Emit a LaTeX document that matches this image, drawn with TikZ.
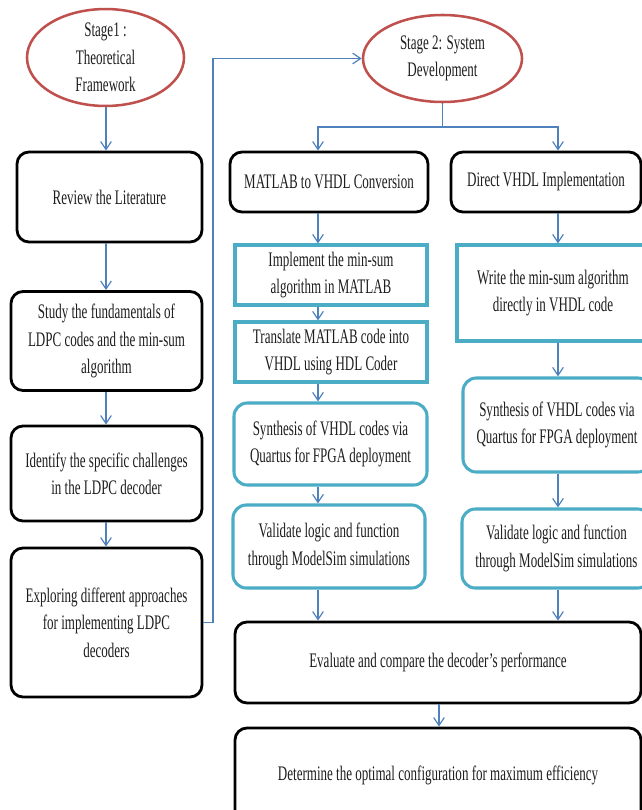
\documentclass[tikz,border=0pt]{standalone}
\usepackage{fontspec}
\setmainfont{Liberation Serif}[FakeStretch=0.63]
\usetikzlibrary{shapes.geometric,arrows.meta}

\definecolor{flowblue}{HTML}{4F81BD}
\definecolor{stagered}{HTML}{C0504D}
\definecolor{stepteal}{HTML}{4BACC6}
\definecolor{inkgrey}{HTML}{1E1E1E}

\tikzset{
  sz/.style 2 args={minimum width=#1*0.75pt, minimum height=#2*0.75pt},
  base/.style={inner sep=0pt, align=center, text=inkgrey,
    font=\fontsize{15.5}{20.5}\selectfont},
  stage/.style={base, ellipse, draw=stagered, line width=1.9pt, fill=white},
  blackbox/.style={base, rectangle, rounded corners=9pt, draw=black, line width=2.1pt},
  tealbox/.style={base, rectangle, draw=stepteal, line width=2.3pt},
  tealround/.style={tealbox, rounded corners=10pt},
  link/.style={draw=flowblue, line width=0.9pt,
    -{Straight Barb[length=6pt, width=8pt, line width=0.9pt]}},
  plainlink/.style={draw=flowblue, line width=0.9pt},
}

\begin{document}
\begin{tikzpicture}[x=0.75pt, y=-0.75pt]
\useasboundingbox (0,0) rectangle (642,810);
\clip (0,0) rectangle (642,810);
\fill[white] (0,0) rectangle (642,810);

% Stage 1 column
\node[stage, sz={157}{89}] (e1) at (105.5,57.5) {Stage1 :\\Theoretical\\Framework};
\node[blackbox, sz={185}{90}] (review) at (109.5,197) {Review the Literature};
\node[blackbox, sz={191}{99}] (study) at (106.5,341) {Study the fundamentals of\\LDPC codes and the min-sum\\algorithm};
\node[blackbox, sz={191}{95}] (identify) at (106.5,473.5) {Identify the specific challenges\\in the LDPC decoder};
\node[blackbox, sz={191}{149}] (explore) at (106.5,622.5) {Exploring different approaches\\for implementing LDPC\\decoders};

% Stage 2 header and branches
\node[stage, sz={159}{87}] (e2) at (442.5,58.5) {Stage 2: System\\Development};
\node[blackbox, sz={198}{60}] (matlab) at (329,182) {MATLAB to VHDL Conversion};
\node[blackbox, sz={190}{60}] (direct) at (546,182) {Direct VHDL Implementation};

% MATLAB route
\node[tealbox, sz={192}{60}] (implement) at (331,275) {Implement the min-sum\\algorithm in MATLAB};
\node[tealbox, sz={192}{60}] (translate) at (331,352) {Translate MATLAB code into\\VHDL using HDL Coder};
\node[tealround, sz={193}{82}] (synthL) at (330.5,444) {Synthesis of VHDL codes via\\Quartus for FPGA deployment};
\node[tealround, sz={192}{83}] (validL) at (329,546.5) {Validate logic and function\\through ModelSim simulations};

% Direct VHDL route
\node[tealbox, sz={192}{96}] (write) at (553,293) {Write the min-sum algorithm\\directly in VHDL code};
\node[tealround, sz={188}{94}] (synthR) at (557,425) {Synthesis of VHDL codes via\\Quartus for FPGA deployment};
\node[tealround, sz={189}{79}] (validR) at (556.5,548.5) {Validate logic and function\\through ModelSim simulations};

% Final steps
\node[blackbox, sz={406}{81}] (evaluate) at (438,662.5) {Evaluate and compare the decoder's performance};
\node[blackbox, sz={406}{94}] (determine) at (438,775) {Determine the optimal configuration for maximum efficiency};

% guide coordinates for the connector columns
\coordinate (lc) at (106,0);
\coordinate (mc) at (318,0);
\coordinate (rc) at (558,0);
\coordinate (bc) at (439,0);
\coordinate (riser) at (213,0);
\coordinate (forky) at (0,127);

% Stage 1 connectors
\draw[link] (e1.south -| lc) -- (review.north -| lc);
\draw[link] (review.south -| lc) -- (study.north -| lc);
\draw[link] (study.south -| lc) -- (identify.north -| lc);
\draw[link] (identify.south -| lc) -- (explore.north -| lc);
\draw[link] (explore.east) -- (explore.east -| riser) -- (riser |- e2.west) -- (e2.west);

% Stage 2 fork
\draw[plainlink] (e2.south) -- (e2.south |- forky);
\draw[link] (e2.south |- forky) -- (mc |- forky) -- (matlab.north -| mc);
\draw[link] (e2.south |- forky) -- (rc |- forky) -- (direct.north -| rc);

% MATLAB route connectors
\draw[link] (matlab.south -| mc) -- (implement.north -| mc);
\draw[link] (implement.south -| mc) -- (translate.north -| mc);
\draw[link] (translate.south -| mc) -- (synthL.north -| mc);
\draw[link] (synthL.south -| mc) -- (validL.north -| mc);
\draw[link] (validL.south -| mc) -- (evaluate.north -| mc);

% Direct VHDL route connectors
\draw[link] (direct.south -| rc) -- (write.north -| rc);
\draw[link] (write.south -| rc) -- (synthR.north -| rc);
\draw[link] (synthR.south -| rc) -- (validR.north -| rc);
\draw[link] (validR.south -| rc) -- (evaluate.north -| rc);

\draw[link] (evaluate.south -| bc) -- (determine.north -| bc);
\end{tikzpicture}
\end{document}
